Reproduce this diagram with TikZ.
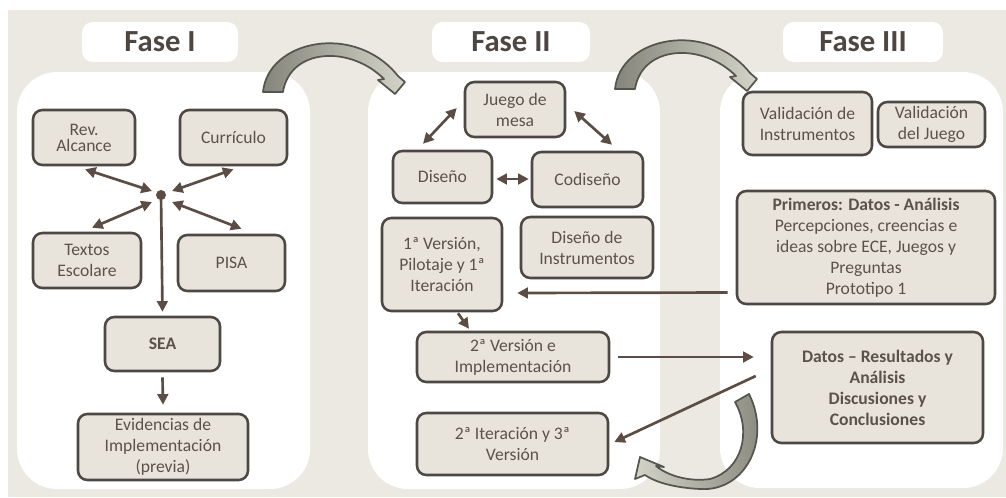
\documentclass[tikz,border=0pt]{standalone}
\usepackage{fontspec}
\setmainfont{Carlito}
\usetikzlibrary{arrows.meta,calc}
\definecolor{bgc}{HTML}{ECE9E3}
\definecolor{boxfill}{HTML}{E8E4DC}
\definecolor{boxdraw}{HTML}{4D4843}
\definecolor{txt}{HTML}{5A524B}
\definecolor{titc}{HTML}{4E4640}
\definecolor{arrowc}{HTML}{5B4D43}
\definecolor{arrdark}{HTML}{85857B}
\definecolor{arrlight}{HTML}{D3D3C7}
\definecolor{arrline}{HTML}{55554F}
% #1 options, #2 name, #3 x1, #4 y1, #5 x2, #6 y2, #7 text
\newcommand\mybx[7][]{\node[#1, minimum width={(#5-#3)*0.75pt}, minimum height={(#6-#4)*0.75pt}] (#2) at ({(#3+#5)/2},{(#4+#6)/2}) {#7};}
\begin{document}
\begin{tikzpicture}[x=0.75pt,y=-0.75pt,
  box/.style={draw=boxdraw, fill=boxfill, line width=1.9pt, rounded corners=7pt, inner sep=0pt, align=center, text=txt, font=\fontsize{13.2}{15.8}\selectfont},
  titlebox/.style={fill=white, rounded corners=8pt, inner sep=0pt, text=titc, font=\fontsize{23}{26}\bfseries\selectfont},
  panel/.style={fill=white, rounded corners=30pt},
  conn/.style={draw=arrowc, line width=2pt},
  sgl/.style={conn, -{Triangle[length=8pt,width=8pt]}},
  dbl/.style={conn, {Triangle[length=8pt,width=8pt]}-{Triangle[length=8pt,width=8pt]}},
  bigarrow/.style={draw=arrline, line width=1.3pt, line join=round}
]
\useasboundingbox (0,0) rectangle (1006,497);
\fill[white] (0,0) rectangle (1006,497);
\fill[bgc] (8,10) rectangle (1006,497);

% panels
\fill[panel] (17,72) rectangle (310,489);
\fill[panel] (368,72) rectangle (660,489);
\fill[panel] (720,72) rectangle (1003,488);

% titles
\mybx[titlebox]{t1}{82}{22}{238}{62}{Fase I}
\mybx[titlebox]{t2}{432}{22}{590}{62}{Fase II}
\mybx[titlebox]{t3}{783}{22}{943}{62}{Fase III}

% Fase I
\mybx[box, font=\fontsize{13.2}{12}\selectfont]{rev}{33}{110}{135}{165}{Rev.\\Alcance}
\mybx[box]{cur}{180}{110}{287}{165}{Currículo}
\mybx[box]{tex}{33}{233}{141}{288}{Textos\\Escolare}
\mybx[box]{pisa}{178}{235}{285}{291}{PISA}
\mybx[box]{sea}{105}{317}{220}{371}{\textbf{SEA}}
\mybx[box]{evi}{78}{414}{248}{480}{Evidencias de\\Implementación\\(previa)}
\node[circle, fill=arrowc, minimum size=7.5pt, inner sep=0pt] (c) at (161,195) {};

\draw[dbl] ([shift={(1,3)}]rev.south) -- ([shift={(-9,-4)}]c.center);
\draw[dbl] ([shift={(0,3)}]cur.south) -- ([shift={(11,-4)}]c.center);
\draw[dbl] ([shift={(5,-4)}]tex.north) -- ([shift={(-9,7)}]c.center);
\draw[dbl] ([shift={(10,-5)}]pisa.north) -- ([shift={(11,7)}]c.center);
\draw[sgl] (c.center) -- ([shift={(0,-4)}]sea.north);
\draw[sgl] ([shift={(0,5)}]sea.south) -- ([shift={(0,-8)}]evi.north);

% Fase II
\mybx[box]{juego}{465}{82}{565}{137}{Juego de\\mesa}
\mybx[box]{dis}{393}{151}{492}{203}{Diseño}
\mybx[box]{codis}{532}{152}{643}{207}{Codiseño}
\mybx[box]{ver1}{382}{218}{502}{311}{1ª Versión,\\Pilotaje y 1ª\\Iteración}
\mybx[box]{dinst}{521}{217}{653}{278}{Diseño de\\Instrumentos}
\mybx[box]{ver2}{417}{332}{609}{382}{2ª Versión e\\Implementación}
\mybx[box]{iter}{417}{413}{608}{475}{2ª Iteración y 3ª\\Versión}

\draw[dbl] ([shift={(-7,-1.5)}]juego.west) -- ([shift={(-19.5,-6)}]dis.north);
\draw[dbl] ([shift={(8,1.5)}]juego.east) -- ([shift={(24.5,-6)}]codis.north);
\draw[dbl] ([shift={(3,2)}]dis.east) -- ([shift={(-2,-0.5)}]codis.west);
\draw[sgl] ([shift={(16,1)}]ver1.south) -- ([shift={(-44,-2)}]ver2.north);

% Fase III
\mybx[box]{vinst}{743}{92}{872}{155}{Validación de\\Instrumentos}
\mybx[box]{vjuego}{878}{102}{985}{147}{Validación\\del Juego}
\mybx[box]{prim}{737}{191}{995}{304}{\textbf{Primeros: Datos - Análisis}\\Percepciones, creencias e\\ideas sobre ECE, Juegos y\\Preguntas\\Prototipo 1}
\mybx[box, font=\fontsize{13.2}{15.8}\bfseries\selectfont]{datos}{772}{332}{983}{443}{Datos – Resultados y\\Análisis\\Discusiones y\\Conclusiones}

\draw[sgl] ([shift={(-8,45)}]prim.west) -- ([shift={(14,28.5)}]ver1.east);
\draw[sgl] ([shift={(8,0)}]ver2.east) -- ([shift={(-17,-30.5)}]datos.west);
\draw[sgl] ([shift={(-15,-11.5)}]datos.west) -- ([shift={(5,-2)}]iter.east);

% big curved arrows
\path[bigarrow, left color=arrdark, right color=arrlight]
  (263,92) .. controls (268,40) and (355,22) .. (398,76) -- (405,82) -- (395,94) -- (378,80) -- (384,79)
  .. controls (350,45) and (290,48) .. (283,92) -- cycle;
\begin{scope}[shift={(352,-3)}]
\path[bigarrow, left color=arrdark, right color=arrlight]
  (263,92) .. controls (268,40) and (355,22) .. (398,76) -- (405,82) -- (395,94) -- (378,80) -- (384,79)
  .. controls (350,45) and (290,48) .. (283,92) -- cycle;
\end{scope}
\path[bigarrow, left color=arrlight, right color=arrdark]
  (735,402) -- (749,394) .. controls (772,440) and (745,492) .. (700,489)
  .. controls (680,488) and (658,484) .. (645,475) -- (635,479) -- (640,457) -- (664,467) -- (656,466)
  .. controls (668,476) and (690,482) .. (710,479) .. controls (742,470) and (752,432) .. (735,402) -- cycle;
\end{tikzpicture}
\end{document}
